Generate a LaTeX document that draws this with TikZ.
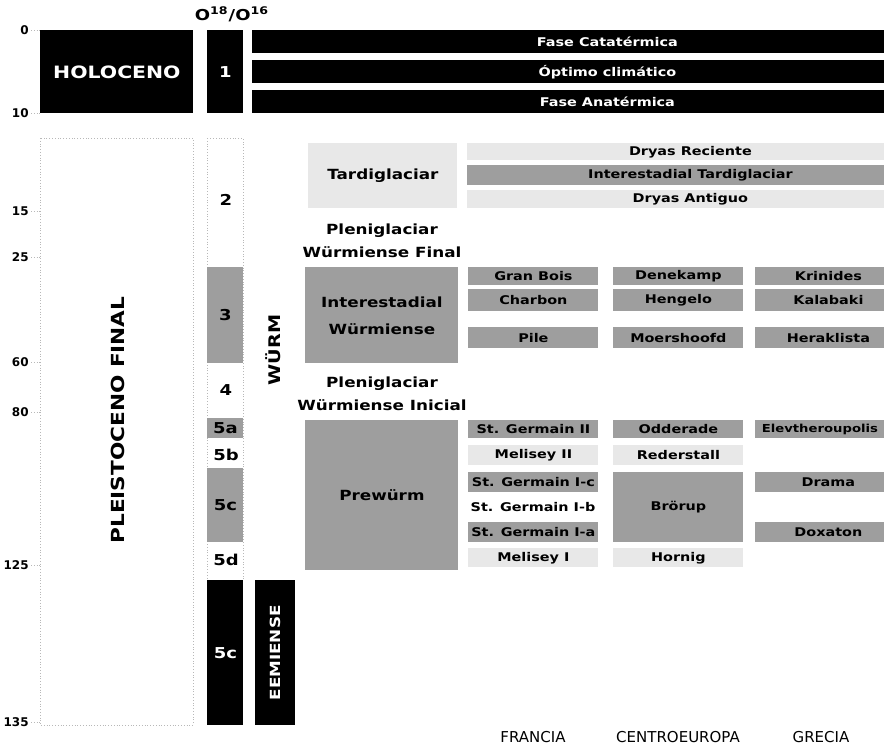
\documentclass[tikz,border=0pt]{standalone}
\usepackage{fontspec}
\newfontfamily\chartfont[FakeStretch=1.2]{DejaVu Sans}
\newfontfamily\plainfont{DejaVu Sans}
\usetikzlibrary{positioning}
\definecolor{stagegray}{rgb}{0.62,0.62,0.62}
\definecolor{stipple}{rgb}{0.91,0.91,0.91}
\definecolor{framegray}{rgb}{0.72,0.72,0.72}

\begin{document}
\begin{tikzpicture}[x=0.5pt, y=-0.5pt,
    box/.style={rectangle, anchor=north west, inner sep=0pt, align=center, font=\chartfont\bfseries\fontsize{6}{7}\selectfont},
    blackbox/.style={box, fill=black, text=white},
    graybox/.style={box, fill=stagegray},
    lightbox/.style={box, fill=stipple},
    fr/.style={minimum width=65pt},
    ce/.style={minimum width=65pt},
    gr/.style={minimum width=73pt},
    tick/.style={anchor=east, inner sep=1pt, font=\plainfont\bfseries\fontsize{6}{7}\selectfont},
    stage/.style={font=\chartfont\bfseries\fontsize{7.5}{8}\selectfont},
    phase/.style={font=\chartfont\bfseries\fontsize{7}{11.5}\selectfont, align=center},
    region/.style={font=\plainfont\fontsize{7.5}{8}\selectfont}
]
\useasboundingbox (0,0) rectangle (884,746);

% escala de tiempo
\draw[framegray, densely dotted] (40,138) rectangle (193,725);
\draw[framegray, densely dotted] (207,138) rectangle (243,580);
\foreach \yy/\lab in {30/0, 113/10, 211/15, 257/25, 362/60, 412/80, 565/125, 722/135} {
  \node[tick] (t\lab) at (31,\yy) {\lab};
  \draw[framegray, densely dotted] (t\lab.east) -- (40,\yy);
}

% Holoceno
\node[blackbox, minimum width=76.5pt, minimum height=41.5pt, font=\chartfont\bfseries\fontsize{8.5}{9}\selectfont] (holoceno) at (40,30) {HOLOCENO};
\node[stage] (isotope) at (232,14) {O\textsuperscript{18}/O\textsuperscript{16}};
\node[blackbox, stage, minimum width=18pt, minimum height=41.5pt] (mis1) at (207,30) {1};
\node[blackbox, minimum width=355pt, minimum height=11.5pt] (catatermica) at (252,30) {Fase Catatérmica};
\node[blackbox, minimum width=355pt, minimum height=11.5pt] (optimo) at (252,60) {Óptimo climático};
\node[blackbox, minimum width=355pt, minimum height=11.5pt] (anatermica) at (252,90) {Fase Anatérmica};

% Pleistoceno
\node[rotate=90, font=\chartfont\bfseries\fontsize{9}{10}\selectfont] (pleistoceno) at (118,420) {PLEISTOCENO FINAL};
\node[stage] (mis2) at (226,200) {2};
\node[graybox, stage, minimum width=18pt, minimum height=48pt] (mis3) at (207,267) {3};
\node[stage] (mis4) at (226,390) {4};
\node[graybox, stage, minimum width=18pt, minimum height=10pt] (mis5a) at (207,418) {5a};
\node[stage] (mis5b) at (226,455) {5b};
\node[graybox, stage, minimum width=18pt, minimum height=37pt] (mis5c) at (207,468) {5c};
\node[stage] (mis5d) at (226,560) {5d};
\node[blackbox, stage, minimum width=18pt, minimum height=72.5pt] (mis5e) at (207,580) {5c};
\node[rotate=90, font=\chartfont\bfseries\fontsize{8}{9}\selectfont] (wurm) at (273,350) {WÜRM};
\node[blackbox, minimum width=20pt, minimum height=72.5pt] (eemiense) at (255,580) {};
\node[rotate=90, text=white, font=\chartfont\bfseries\fontsize{7}{8}\selectfont] (eemtext) at (eemiense.center) {EEMIENSE};

% Tardiglaciar
\node[lightbox, phase, minimum width=74.5pt, minimum height=32.5pt] (tardi) at (308,143) {Tardiglaciar};
\node[lightbox, minimum width=223pt, minimum height=8.5pt] (dryasrec) at (467,143) {Dryas Reciente};
\node[graybox, minimum width=223pt, minimum height=10pt] (intertardi) at (467,165) {Interestadial Tardiglaciar};
\node[lightbox, minimum width=223pt, minimum height=9pt] (dryasant) at (467,190) {Dryas Antiguo};

% Interestadial Würmiense
\node[phase] (plenifinal) at (382,241) {Pleniglaciar\\Würmiense Final};
\node[graybox, phase, minimum width=76.5pt, minimum height=48pt, font=\chartfont\bfseries\fontsize{7}{13.5}\selectfont] (interwurm) at (305,267) {Interestadial\\Würmiense};
\node[graybox, fr, minimum height=9pt] (granbois) at (468,267) {Gran Bois};
\node[graybox, fr, minimum height=11pt] (charbon) at (468,289) {Charbon};
\node[graybox, fr, minimum height=10.5pt] (pile) at (468,327) {Pile};
\node[graybox, ce, minimum height=9pt] (denekamp) at (613,267) {Denekamp};
\node[graybox, ce, minimum height=11pt] (hengelo) at (613,289) {Hengelo};
\node[graybox, ce, minimum height=10.5pt] (moershoofd) at (613,327) {Moershoofd};
\node[graybox, gr, minimum height=9pt] (krinides) at (755,267) {Krinides};
\node[graybox, gr, minimum height=11pt] (kalabaki) at (755,289) {Kalabaki};
\node[graybox, gr, minimum height=10.5pt] (heraklista) at (755,327) {Heraklista};

% Prewürm
\node[phase] (pleniinicial) at (382,394) {Pleniglaciar\\Würmiense Inicial};
\node[graybox, phase, minimum width=76.5pt, minimum height=75pt] (prewurm) at (305,420) {Prewürm};
\node[graybox, fr, minimum height=9pt] (stgermain2) at (468,420) {St. Germain II};
\node[lightbox, fr, minimum height=10pt] (melisey2) at (468,445) {Melisey II};
\node[graybox, fr, minimum height=10pt] (stgermain1c) at (468,472) {St. Germain I-c};
\node[box, anchor=center] (stgermain1b) at (533,507) {St. Germain I-b};
\node[graybox, fr, minimum height=10pt] (stgermain1a) at (468,522) {St. Germain I-a};
\node[lightbox, fr, minimum height=9.5pt] (melisey1) at (468,548) {Melisey I};
\node[graybox, ce, minimum height=9pt] (odderade) at (613,420) {Odderade};
\node[lightbox, ce, minimum height=10pt] (rederstall) at (613,445) {Rederstall};
\node[graybox, ce, minimum height=35pt] (brorup) at (613,472) {Brörup};
\node[lightbox, ce, minimum height=9.5pt] (hornig) at (613,548) {Hornig};
\node[graybox, minimum width=64.5pt, minimum height=9pt, font=\chartfont\bfseries\fontsize{5.5}{6}\selectfont] (elevtheroupolis) at (755,420) {Elevtheroupolis};
\node[graybox, gr, minimum height=10pt] (drama) at (755,472) {Drama};
\node[graybox, gr, minimum height=10pt] (doxaton) at (755,522) {Doxaton};

% regiones
\node[region] (francia) at (533,737) {FRANCIA};
\node[region] (centroeuropa) at (678,737) {CENTROEUROPA};
\node[region] (grecia) at (821,737) {GRECIA};

\end{tikzpicture}
\end{document}
